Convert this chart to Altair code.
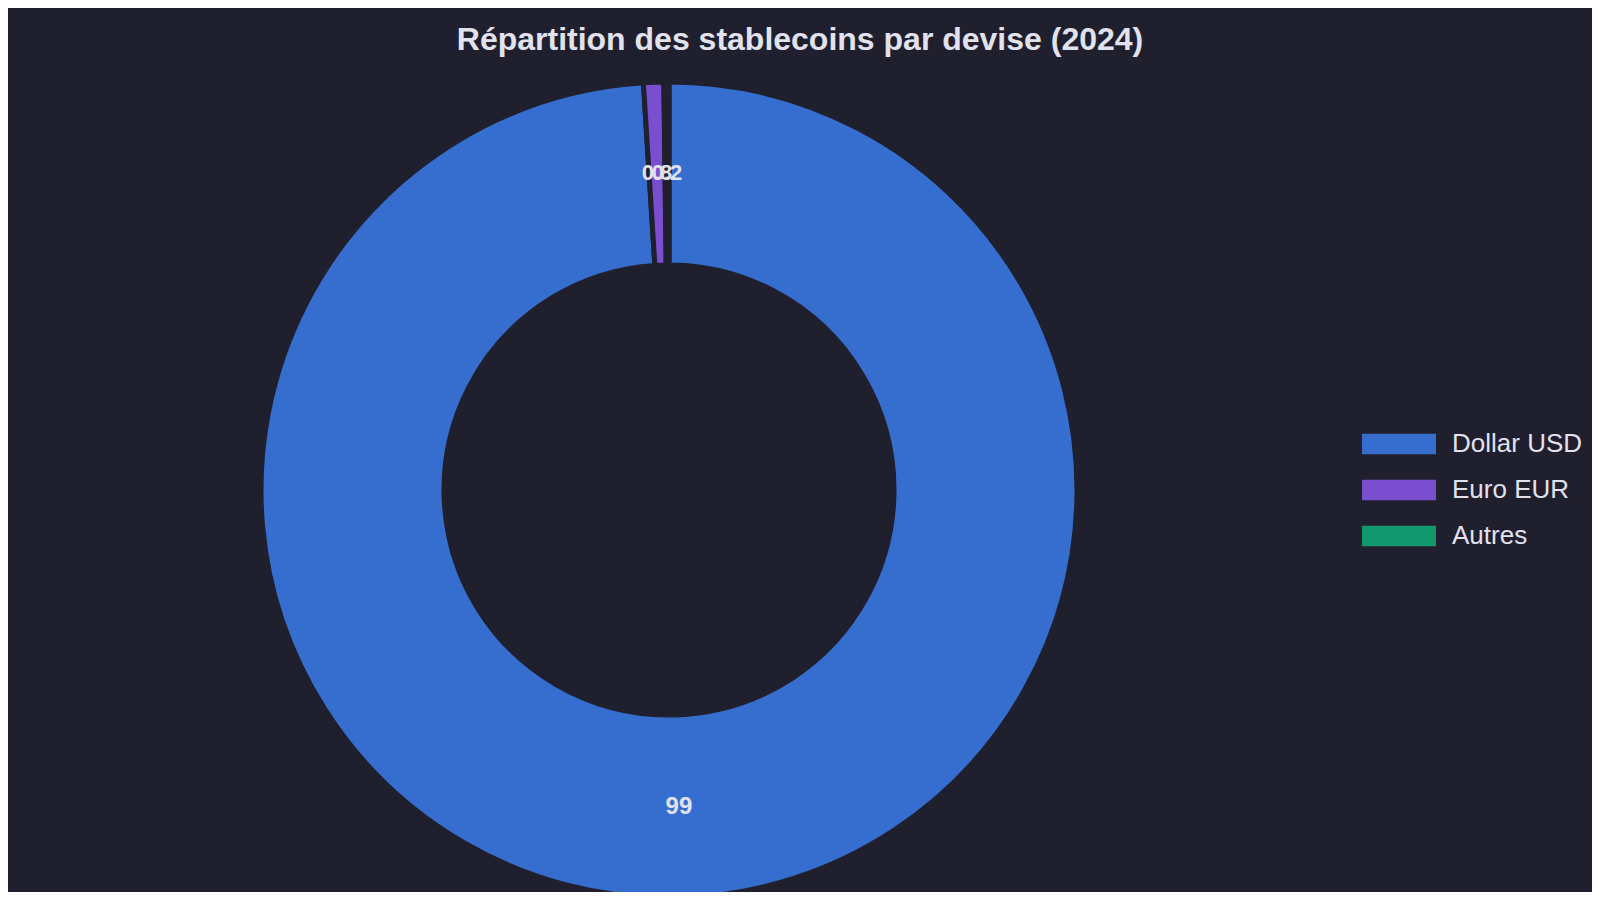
import altair as alt
import pandas as pd

devises = ["Dollar USD", "Euro EUR", "Autres"]
parts = [99, 0.8, 0.2]
ordre = [0, 1, 2]
couleurs = ["#356ecf", "#7a4fcf", "#129a6e"]

df = pd.DataFrame({"devise": devises, "part": parts, "ordre": ordre})

BG = "#1f1f2e"
TXT = "#e2e2ee"
CX, CY = 661, 412
R_OUT, R_IN, R_LAB = 408, 225, 317

base = alt.Chart(df).encode(
    theta=alt.Theta("part:Q", stack=True),
    order=alt.Order("ordre:Q"),
)

arcs = base.mark_arc(outerRadius=R_OUT, innerRadius=R_IN, stroke=BG, strokeWidth=5).encode(
    x=alt.value(CX),
    y=alt.value(CY),
    color=alt.Color(
        "devise:N",
        scale=alt.Scale(domain=devises, range=couleurs),
        legend=alt.Legend(
            title=None,
            orient="none",
            legendX=1378,
            legendY=353,
            labelFontSize=26,
            labelColor=TXT,
            labelFont="Liberation Sans",
            symbolType="M-3.627,-1H3.627V1H-3.627Z",
            symbolSize=416,
            symbolStrokeWidth=0,
            labelOffset=40,
            rowPadding=20,
        ),
    ),
)

labels_big = base.mark_text(
    radius=R_LAB, fontSize=24, fontWeight="bold", color=TXT, font="Liberation Sans"
).encode(
    x=alt.value(CX),
    y=alt.value(CY),
    text=alt.Text("part:Q"),
    opacity=alt.condition("datum.part >= 1", alt.value(1), alt.value(0)),
)

labels_small = base.mark_text(
    radius=R_LAB, fontSize=22, fontWeight="bold", color=TXT, font="Liberation Sans"
).encode(
    x=alt.value(CX),
    y=alt.value(CY),
    text=alt.Text("part:Q"),
    opacity=alt.condition("datum.part < 1", alt.value(1), alt.value(0)),
)

chart = (
    alt.layer(arcs, labels_big, labels_small)
    .properties(
        width=1584,
        height=814,
        autosize=alt.AutoSizeParams(type="none"),
        padding={"left": 0, "top": 70, "right": 0, "bottom": 0},
        background=BG,
        title=alt.TitleParams(
            "Répartition des stablecoins par devise (2024)",
            fontSize=32,
            fontWeight="bold",
            color=TXT,
            font="Liberation Sans",
            anchor="middle",
            offset=15,
        ),
    )
    .configure_view(stroke=None)
)

chart.save("out.html", embed_options={"renderer": "svg", "actions": False})
